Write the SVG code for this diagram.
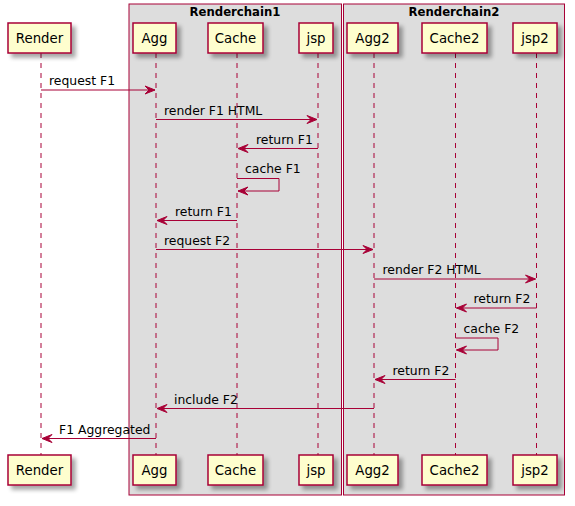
<svg xmlns="http://www.w3.org/2000/svg" width="575" height="506" viewBox="0 0 575 506">
<defs>
<filter id="sh" x="-20%" y="-20%" width="150%" height="160%">
<feGaussianBlur in="SourceAlpha" stdDeviation="2"/>
<feOffset dx="4" dy="4" result="b"/>
<feComponentTransfer><feFuncA type="linear" slope="0.35"/></feComponentTransfer>
<feMerge><feMergeNode/><feMergeNode in="SourceGraphic"/></feMerge>
</filter>
</defs>
<style>
.box{fill:#DDDDDD;stroke:#A80036;stroke-width:1}
.title{font-family:"DejaVu Sans",sans-serif;font-size:11.7px;font-weight:bold;fill:#000;text-anchor:middle}
.life{stroke:#A80036;stroke-width:1;stroke-dasharray:5,5}
.p rect{fill:#FEFECE;stroke:#A80036;stroke-width:1.5;filter:url(#sh)}
.p text{font-family:"DejaVu Sans",sans-serif;font-size:13.3px;fill:#000;text-anchor:middle}
.msg line,.msg polyline{stroke:#A80036;stroke-width:1;fill:none}
.msg polygon{fill:#A80036;stroke:#A80036;stroke-width:1}
.msg text{font-family:"DejaVu Sans",sans-serif;font-size:12.4px;fill:#000}
</style>
<rect fill="#FFFFFF" x="0" y="0" width="575" height="506"/>
<g id="groups">
<rect class="box" x="129" y="4" width="212.5" height="491"/>
<text class="title" x="235" y="16">Renderchain1</text>
<rect class="box" x="343.5" y="4" width="221" height="491"/>
<text class="title" x="454" y="16">Renderchain2</text>
</g>
<g id="lifelines">
<line class="life" x1="41" y1="53" x2="41" y2="455"/>
<line class="life" x1="156" y1="53" x2="156" y2="455"/>
<line class="life" x1="237" y1="53" x2="237" y2="455"/>
<line class="life" x1="318" y1="53" x2="318" y2="455"/>
<line class="life" x1="374" y1="53" x2="374" y2="455"/>
<line class="life" x1="455.5" y1="53" x2="455.5" y2="455"/>
<line class="life" x1="536.5" y1="53" x2="536.5" y2="455"/>
</g>
<g id="Render" class="p">
<rect x="8" y="23" width="63" height="30"/><text x="39.5" y="43">Render</text>
<rect x="8" y="455" width="63" height="30"/><text x="39.5" y="475">Render</text>
</g>
<g id="Agg" class="p">
<rect x="133" y="23" width="43" height="30"/><text x="154.5" y="43">Agg</text>
<rect x="133" y="455" width="43" height="30"/><text x="154.5" y="475">Agg</text>
</g>
<g id="Cache" class="p">
<rect x="208" y="23" width="55" height="30"/><text x="235.5" y="43">Cache</text>
<rect x="208" y="455" width="55" height="30"/><text x="235.5" y="475">Cache</text>
</g>
<g id="jsp" class="p">
<rect x="299" y="23" width="34" height="30"/><text x="316" y="43">jsp</text>
<rect x="299" y="455" width="34" height="30"/><text x="316" y="475">jsp</text>
</g>
<g id="Agg2" class="p">
<rect x="347" y="23" width="51" height="30"/><text x="372.5" y="43">Agg2</text>
<rect x="347" y="455" width="51" height="30"/><text x="372.5" y="475">Agg2</text>
</g>
<g id="Cache2" class="p">
<rect x="422" y="23" width="65" height="30"/><text x="454.5" y="43">Cache2</text>
<rect x="422" y="455" width="65" height="30"/><text x="454.5" y="475">Cache2</text>
</g>
<g id="jsp2" class="p">
<rect x="513" y="23" width="44" height="30"/><text x="535" y="43">jsp2</text>
<rect x="513" y="455" width="44" height="30"/><text x="535" y="475">jsp2</text>
</g>
<g id="connectors" class="msg">
<line x1="41" y1="90" x2="155" y2="90"/><polygon points="155,90 145,86 149,90 145,94"/><text x="49" y="85">request F1</text>
<line x1="156" y1="119.5" x2="317" y2="119.5"/><polygon points="317,119.5 307,115.5 311,119.5 307,123.5"/><text x="164" y="114.5">render F1 HTML</text>
<line x1="238" y1="148.5" x2="318" y2="148.5"/><polygon points="238,148.5 248,144.5 244,148.5 248,152.5"/><text x="256" y="143.5">return F1</text>
<polyline points="237,178.5 279,178.5 279,191 238,191"/><polygon points="238,191 248,187 244,191 248,195"/><text x="245" y="173">cache F1</text>
<line x1="157" y1="220.5" x2="237" y2="220.5"/><polygon points="157,220.5 167,216.5 163,220.5 167,224.5"/><text x="175" y="215.5">return F1</text>
<line x1="156" y1="249.5" x2="373" y2="249.5"/><polygon points="373,249.5 363,245.5 367,249.5 363,253.5"/><text x="164" y="244.5">request F2</text>
<line x1="374" y1="279" x2="535.5" y2="279"/><polygon points="535.5,279 525.5,275 529.5,279 525.5,283"/><text x="382.5" y="274">render F2 HTML</text>
<line x1="456.5" y1="308" x2="536.5" y2="308"/><polygon points="456.5,308 466.5,304 462.5,308 466.5,312"/><text x="473.5" y="303">return F2</text>
<polyline points="455.5,338 498,338 498,350 456.5,350"/><polygon points="456.5,350 466.5,346 462.5,350 466.5,354"/><text x="463.5" y="332.5">cache F2</text>
<line x1="375" y1="379.5" x2="455.5" y2="379.5"/><polygon points="375,379.5 385,375.5 381,379.5 385,383.5"/><text x="392.5" y="374.5">return F2</text>
<line x1="157" y1="408.5" x2="374" y2="408.5"/><polygon points="157,408.5 167,404.5 163,408.5 167,412.5"/><text x="174" y="403.5">include F2</text>
<line x1="42" y1="438.5" x2="156" y2="438.5"/><polygon points="42,438.5 52,434.5 48,438.5 52,442.5"/><text x="59" y="433.5">F1 Aggregated</text>
</g>
</svg>
